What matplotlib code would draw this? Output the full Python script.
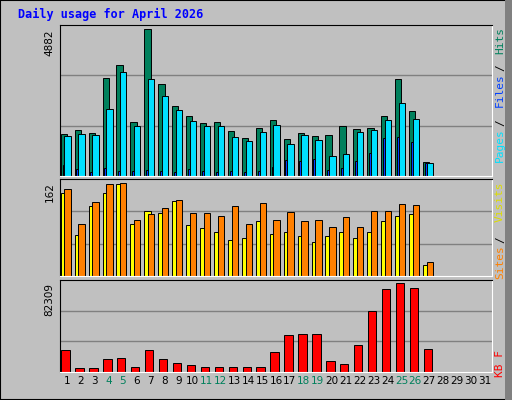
import matplotlib
matplotlib.use('Agg')
import matplotlib.pyplot as plt
from matplotlib.patches import Rectangle

days = list(range(1, 32))
weekend = [4, 5, 11, 12, 18, 19, 25, 26]
hits = [1387, 1520, 1420, 3251, 3684, 1786, 4882, 3051, 2319, 1986, 1753, 1786, 1487, 1254,
        1587, 1853, 1221, 1420, 1320, 1354, 1653, 1553, 1587, 1986, 3218, 2152, 455]
files = [355, 222, 122, 255, 155, 155, 189, 155, 122, 222, 155, 122, 155, 122,
         155, 289, 522, 488, 555, 189, 255, 488, 755, 1254, 1287, 1121, 422]
pages = [1320, 1387, 1354, 2219, 3451, 1653, 3218, 2652, 2186, 1820, 1653, 1653, 1287, 1154,
         1453, 1687, 1054, 1354, 1187, 655, 721, 1453, 1520, 1853, 2420, 1887, 422]
visits = [143, 71, 120, 143, 159, 89, 111, 108, 129, 87, 83, 75, 62, 66,
          94, 73, 75, 68, 59, 68, 76, 66, 75, 94, 103, 106, 19]
sites = [150, 89, 127, 159, 160, 96, 106, 117, 131, 108, 108, 103, 120, 90,
         125, 97, 110, 94, 96, 85, 101, 85, 111, 111, 124, 122, 24]
kbytes = [19900, 3800, 3800, 12300, 13200, 4700, 19900, 12300, 8500, 6600, 4700, 4700, 4700, 4700,
          4700, 18000, 34000, 35000, 35000, 10400, 7600, 24600, 55800, 76600, 82309, 77600, 20800]

W, H = 512, 400
fig = plt.figure(figsize=(W / 100, H / 100), dpi=100, facecolor='#C0C0C0')
# bevel frame
fig.patches.append(Rectangle((0, 0), 1, 1, transform=fig.transFigure, fill=False,
                             edgecolor='black', lw=1.5))
fig.patches.append(Rectangle((505 / W, 0), 7 / W, 1, transform=fig.transFigure,
                             facecolor='#808080', edgecolor='none'))
fig.text(18 / W, 1 - 14 / H, 'Daily usage for April 2026', color='#0000FF',
         family='DejaVu Sans Mono', weight='bold', fontsize=8.5, va='center')

def panel(top, bottom, series, ymax):
    ax = fig.add_axes([60 / W, 1 - bottom / H, 432 / W, (bottom - top) / H])
    ax.set_facecolor('#C0C0C0')
    for x0, w, vals, col in series:
        ax.bar([d + x0 for d in days[:len(vals)]], vals, width=w, align='edge',
               color=col, edgecolor='black', linewidth=0.7)
    ax.set_xlim(0.5, 31.5)
    top_lim = ymax * 1.03
    ax.set_ylim(0, top_lim)
    for f in (1 / 3, 2 / 3):
        ax.axhline(top_lim * f, color='#808080', lw=1, zorder=0)
    ax.set_yticks([ymax])
    ax.set_yticklabels([str(ymax)], rotation=90, va='top', fontsize=7.5)
    ax.tick_params(length=0, pad=4)
    for s in ax.spines.values():
        s.set_color('black')
    ax.spines['right'].set_color('white')
    ax.spines['bottom'].set_color('white')
    return ax

ax1 = panel(25, 176, [(-0.45, 0.45, hits, '#00805C'), (-0.32, 0.15, files, '#0040FF'),
                      (-0.18, 0.45, pages, '#00E0FF')], 4882)
ax2 = panel(179, 276, [(-0.45, 0.45, visits, '#FFFF00'), (-0.18, 0.45, sites, '#FF8000')], 162)
ax3 = panel(280, 372, [(-0.4, 0.6, kbytes, '#FF0000')], 82309)
for ax in (ax1, ax2):
    ax.set_xticks([])
ax3.set_xticks(days)
ax3.set_xticklabels([str(d) for d in days], fontsize=7.5)
for lbl, d in zip(ax3.get_xticklabels(), days):
    lbl.set_color('#00805C' if d in weekend else 'black')
ax3.tick_params(axis='x', pad=3)

def rlabel(ytop, parts, step=9.2):
    y = 1 - ytop / H
    for txt, col in parts:
        fig.text(495 / W, y, txt, rotation=90, color=col, family='DejaVu Sans Mono',
                 fontsize=8, ha='left', va='top')
        y -= (len(txt) * step) / H

rlabel(27, [('Hits', '#00805C'), ('/', 'black'), ('Files', '#0040FF'), ('/', 'black'), ('Pages', '#00E0FF')])
rlabel(181, [('Visits', '#DDDD00'), ('/', 'black'), ('Sites', '#FF8000')])
rlabel(350, [('KB F', '#FF0000')])

fig.savefig('out.png', dpi=100, facecolor=fig.get_facecolor())
